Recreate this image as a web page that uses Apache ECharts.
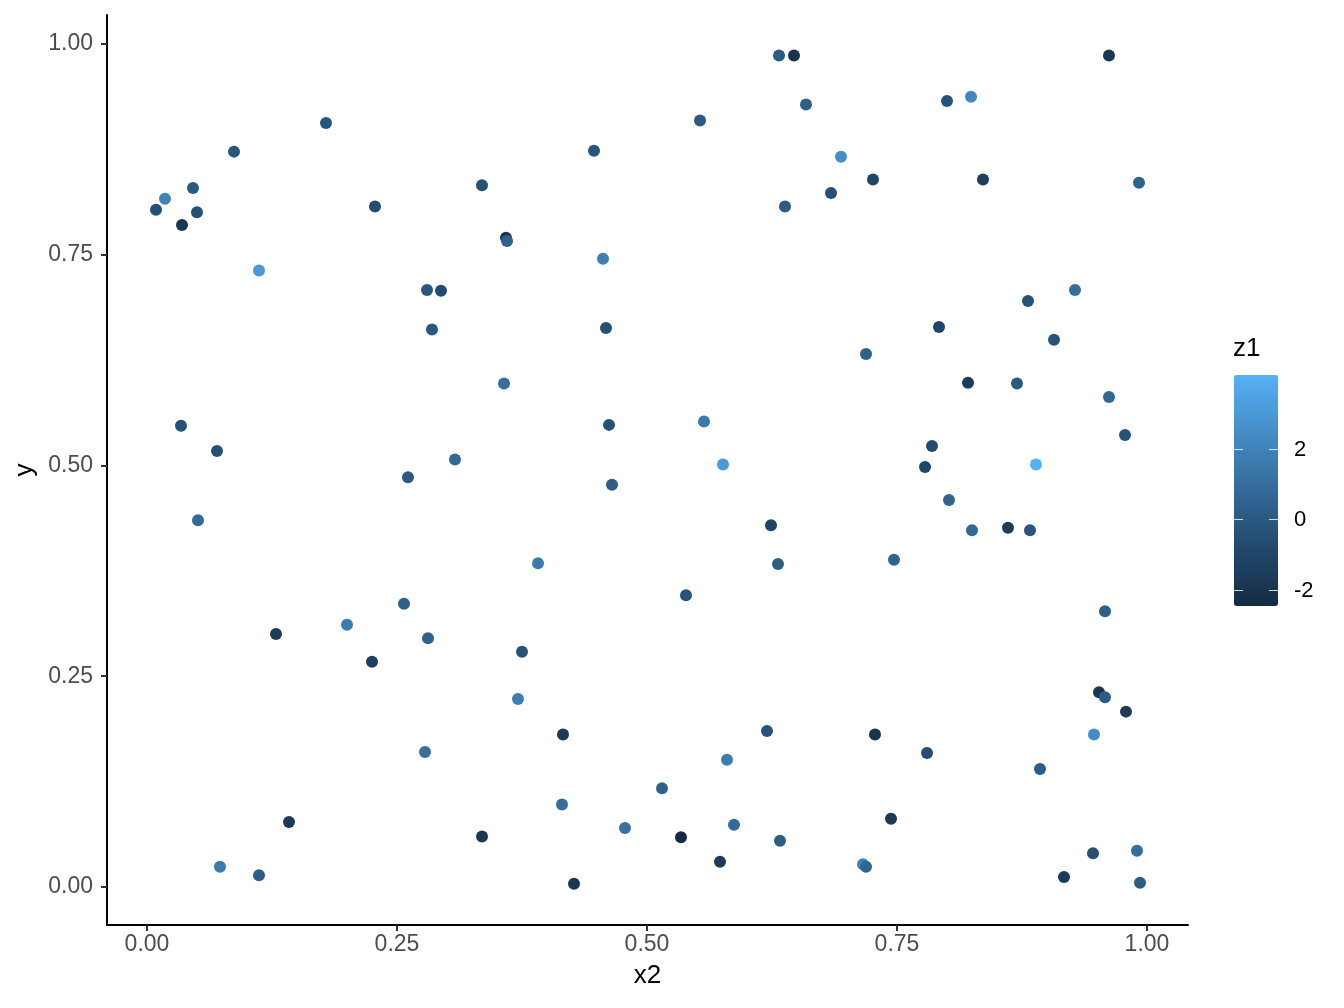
<!DOCTYPE html>
<html>
<head>
<meta charset="utf-8">
<title>scatter x2 / y coloured by z1</title>
<script src="https://cdn.jsdelivr.net/npm/echarts@6/dist/echarts.min.js"></script>
<style>
  html, body { margin: 0; padding: 0; background: #fff; }
  #chart { width: 1344px; height: 1008px; }
</style>
</head>
<body>
<div id="chart"></div>
<script>
// values
var x2 = [0.632, 0.647, 0.962, 0.659, 0.800, 0.824, 0.553, 0.179, 0.447, 0.087,
  0.694, 0.726, 0.684, 0.836, 0.992, 0.335, 0.046, 0.018, 0.009, 0.050,
  0.035, 0.228, 0.638, 0.359, 0.360, 0.456, 0.112, 0.280, 0.294, 0.285,
  0.881, 0.928, 0.792, 0.459, 0.907, 0.719, 0.821, 0.870, 0.357, 0.962,
  0.978, 0.462, 0.557, 0.034, 0.070, 0.308, 0.576, 0.778, 0.785, 0.889,
  0.802, 0.825, 0.861, 0.883, 0.747, 0.958, 0.952, 0.958, 0.979, 0.947,
  0.728, 0.780, 0.893, 0.744, 0.716, 0.719, 0.946, 0.990, 0.917, 0.993,
  0.465, 0.624, 0.391, 0.631, 0.539, 0.375, 0.371, 0.416, 0.620, 0.580,
  0.515, 0.415, 0.335, 0.478, 0.534, 0.587, 0.633, 0.573, 0.427, 0.261,
  0.051, 0.257, 0.200, 0.129, 0.281, 0.225, 0.278, 0.142, 0.073, 0.112];
var y = [0.986, 0.986, 0.986, 0.928, 0.932, 0.937, 0.909, 0.906, 0.873, 0.872,
  0.866, 0.839, 0.823, 0.839, 0.835, 0.832, 0.829, 0.816, 0.803, 0.800,
  0.785, 0.807, 0.807, 0.770, 0.766, 0.745, 0.731, 0.708, 0.707, 0.661,
  0.695, 0.708, 0.664, 0.663, 0.649, 0.632, 0.598, 0.597, 0.597, 0.581,
  0.536, 0.548, 0.552, 0.547, 0.517, 0.507, 0.501, 0.498, 0.523, 0.501,
  0.459, 0.423, 0.426, 0.423, 0.388, 0.327, 0.231, 0.225, 0.208, 0.181,
  0.181, 0.159, 0.140, 0.081, 0.027, 0.024, 0.040, 0.043, 0.012, 0.005,
  0.477, 0.429, 0.384, 0.383, 0.346, 0.279, 0.223, 0.181, 0.185, 0.151,
  0.117, 0.098, 0.060, 0.070, 0.059, 0.074, 0.055, 0.030, 0.004, 0.486,
  0.435, 0.336, 0.311, 0.300, 0.295, 0.267, 0.160, 0.077, 0.024, 0.014];
var z1 = [0.1, -2.0, -1.8, 0.3, -0.3, 2.2, 0.1, -0.2, -0.2, -0.2,
  2.5, -1.0, -0.4, -1.4, 0.4, -0.4, 0.0, 2.0, -0.5, -0.4,
  -1.8, -0.6, 0.1, -1.8, 0.3, 1.8, 3.0, -0.1, -0.7, -0.1,
  -0.3, 1.0, -1.0, -0.5, -0.3, 0.3, -1.5, 0.0, 1.0, 0.65,
  -0.3, -0.5, 1.5, -0.4, -0.4, 0.7, 3.0, -1.0, -0.7, 4.09,
  0.5, 0.7, -1.5, -0.2, 0.4, 0.3, -1.8, 0.2, -1.6, 2.5,
  -2.0, -0.6, 0.2, -1.7, 2.0, 0.6, -0.4, 1.0, -1.6, 0.2,
  0.2, -1.1, 1.6, 0.2, -0.2, -0.3, 1.8, -1.6, -0.3, 1.7,
  0.3, 1.0, -1.7, 1.2, -2.45, 0.8, 0.2, -1.5, -1.8, 0.0,
  0.8, 0.3, 1.6, -1.6, 0.4, -1.3, 1.1, -1.6, 1.6, 0.2];

var axisTicks = [0, 0.25, 0.5, 0.75, 1];
var legendTicks = [2, 0, -2];
var zMin = -2.45, zMax = 4.09;

var points = x2.map(function (v, i) { return [v, y[i], z1[i]]; });

// colour bar geometry
var barLeft = 1234, barTop = 375, barW = 44, barH = 231;
function barY(v) { return barTop + (zMax - v) / (zMax - zMin) * barH; }

var legendGraphics = [{
  type: 'text', left: 1233, top: 336,
  style: { text: 'z1', fontSize: 26, fontFamily: 'Liberation Sans', fill: '#000' }
}];
legendTicks.forEach(function (v) {
  var yy = Math.round(barY(v)) + 0.5;
  legendGraphics.push({
    type: 'line', z: 100,
    shape: { x1: barLeft, y1: yy, x2: barLeft + 9, y2: yy },
    style: { stroke: 'rgba(255,255,255,0.8)', lineWidth: 1 }
  });
  legendGraphics.push({
    type: 'line', z: 100,
    shape: { x1: barLeft + barW - 9, y1: yy, x2: barLeft + barW, y2: yy },
    style: { stroke: 'rgba(255,255,255,0.8)', lineWidth: 1 }
  });
  legendGraphics.push({
    type: 'text', z: 100, x: barLeft + barW + 16, y: yy,
    style: { text: String(v), fontSize: 22, fontFamily: 'Liberation Sans',
      fill: '#000', verticalAlign: 'middle', align: 'left' }
  });
});

var chart = echarts.init(document.getElementById('chart'));
var axisCommon = {
  type: 'value',
  nameLocation: 'middle',
  nameTextStyle: { fontSize: 26, color: '#000', fontFamily: 'Liberation Sans' },
  splitLine: { show: false },
  axisLine: { show: true, onZero: false, lineStyle: { color: '#000', width: 2 } },
  axisTick: { show: true, length: 6, customValues: axisTicks, lineStyle: { color: '#333', width: 2 } },
  axisLabel: {
    customValues: axisTicks, fontSize: 23, color: '#4D4D4D', fontFamily: 'Liberation Sans',
    formatter: function (v) { return v.toFixed(2); }
  }
};

chart.setOption({
  animation: false,
  backgroundColor: '#fff',
  grid: { left: 107, top: 15, right: 156, bottom: 83, outerBoundsMode: 'none' },
  xAxis: Object.assign({}, axisCommon, {
    name: 'x2', nameGap: 38, min: -0.04, max: 1.041,
    axisLabel: Object.assign({}, axisCommon.axisLabel, { margin: 8 })
  }),
  yAxis: Object.assign({}, axisCommon, {
    name: 'y', nameGap: 66, nameRotate: 90, min: -0.045, max: 1.034,
    axisLabel: Object.assign({}, axisCommon.axisLabel, { margin: 14 })
  }),
  visualMap: {
    type: 'continuous',
    min: zMin, max: zMax,
    dimension: 2,
    seriesIndex: 0,
    calculable: false,
    left: barLeft, top: barTop, padding: 0,
    itemWidth: barW, itemHeight: barH,
    text: null,
    // ggplot's default gradient, sampled in Lab space
    inRange: { color: ['#132B43', '#22496C', '#336A98', '#448DC6', '#56B1F7'] }
  },
  graphic: legendGraphics,
  series: [{
    type: 'scatter',
    symbolSize: 12,
    itemStyle: { opacity: 1 },
    data: points
  }]
});
</script>
</body>
</html>
